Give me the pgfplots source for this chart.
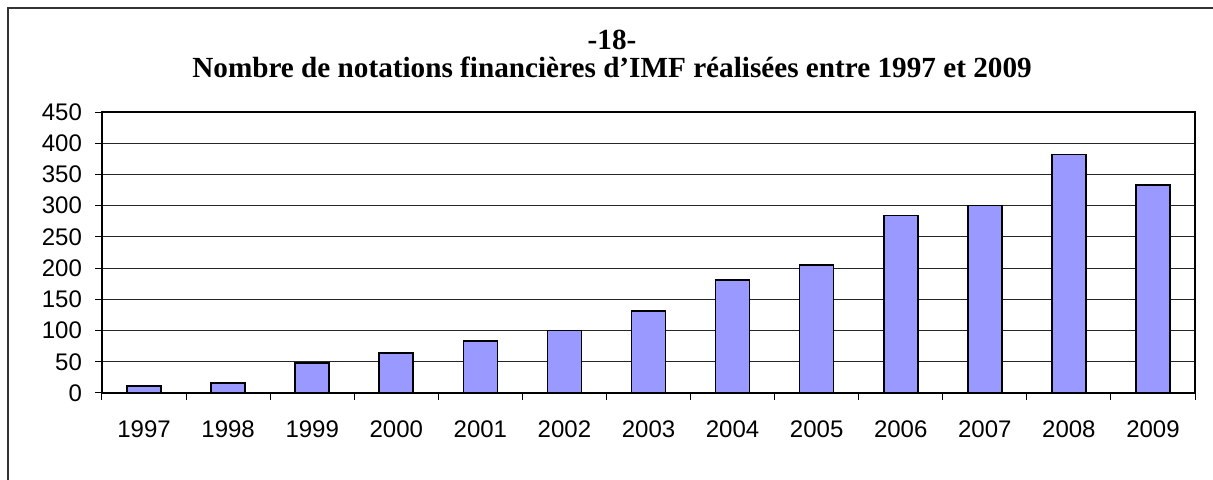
\documentclass[border=0pt]{standalone}
\usepackage{fontspec}
\setmainfont{Liberation Sans}
\newfontfamily\titlefont{Liberation Serif}
\usepackage{pgfplots}
\pgfplotsset{compat=1.18}
\definecolor{barblue}{RGB}{153,153,255}
\begin{document}
\begin{tikzpicture}
\useasboundingbox (0,0) rectangle (606.5pt,240pt);
\draw[line width=0.6pt, black!80] (610pt,236pt) -- (4pt,236pt) -- (4pt,-2pt);
\node[font=\titlefont\bfseries\fontsize{14.6}{16}\selectfont] at (306pt,220pt) {-18-};
\node[font=\titlefont\bfseries\fontsize{14.6}{16}\selectfont] at (306pt,206.5pt) {Nombre de notations financières d’IMF réalisées entre 1997 et 2009};
\begin{axis}[
  at={(51pt,43.5pt)}, anchor=south west,
  scale only axis, width=546.5pt, height=140.5pt,
  xmin=0.5, xmax=13.5, ymin=0, ymax=450,
  ytick={0,50,...,450},
  xtick={1,...,13},
  xticklabels={1997,1998,1999,2000,2001,2002,2003,2004,2005,2006,2007,2008,2009},
  minor xtick={0.5,1.5,...,13.5},
  major x tick style={draw=none},
  xtick pos=bottom, ytick pos=left,
  tick align=outside,
  major tick length=3.5pt, minor tick length=3.5pt,
  tick style={black, line width=0.5pt},
  ymajorgrids,
  major grid style={black!85, line width=0.5pt},
  axis line style={black, line width=0.6pt},
  tick label style={font=\fontsize{12}{14}\selectfont},
  /pgf/number format/assume math mode=true,
  xticklabel style={yshift=-7pt},
  yticklabel style={xshift=-3pt},
  ybar, bar width=17pt,
]
\addplot[fill=barblue, draw=black, line width=0.8pt] coordinates {
(1,11) (2,16) (3,48) (4,64) (5,83) (6,100) (7,131) (8,181) (9,205) (10,284) (11,300) (12,382) (13,333)
};
\end{axis}
\end{tikzpicture}
\end{document}
